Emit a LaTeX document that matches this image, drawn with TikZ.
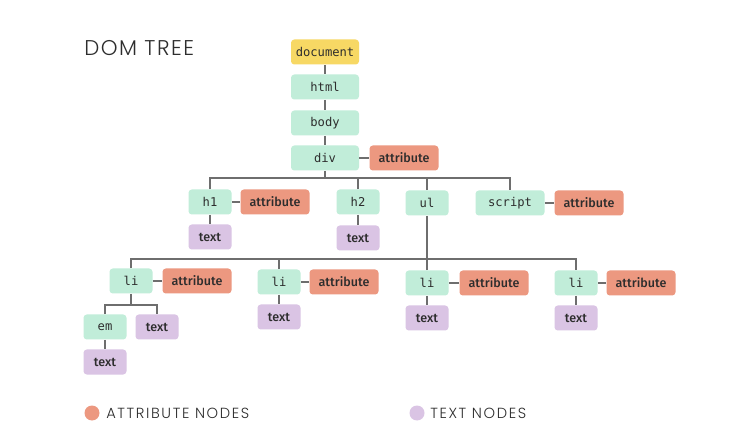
\documentclass[tikz,border=0pt]{standalone}
\usepackage{fontspec}
\newfontfamily\monof{DejaVu Sans Mono}
\newfontfamily\labf{Fira Sans Medium}
\newfontfamily\titlef{Poppins Light}[LetterSpace=7]
\newfontfamily\legf{Poppins Light}[LetterSpace=11]
\definecolor{docy}{RGB}{247,216,100}
\definecolor{elemg}{RGB}{193,237,217}
\definecolor{attrr}{RGB}{236,152,128}
\definecolor{textv}{RGB}{218,196,228}
\definecolor{linec}{RGB}{110,110,110}
\definecolor{inkc}{RGB}{45,45,45}
\tikzset{
  base/.style={rounded corners=2.5pt, inner sep=0pt, minimum height=18.75pt, text=inkc},
  elem/.style={base, fill=elemg, font=\monof\fontsize{9.1}{10}\selectfont, minimum width=32.25pt},
  wide/.style={minimum width=51pt},
  docn/.style={elem, wide, fill=docy},
  attr/.style={base, fill=attrr, font=\labf\fontsize{9.4}{10}\selectfont, minimum width=51.75pt},
  txt/.style={base, fill=textv, font=\labf\fontsize{9.4}{10}\selectfont, minimum width=32.25pt},
  conn/.style={draw=linec, line width=1.1pt},
}
\begin{document}
\begin{tikzpicture}[x=0.75pt,y=-0.75pt]
\useasboundingbox (0,0) rectangle (742,427);
\fill[white] (0,0) rectangle (742,427);
% title
\node[anchor=base west, inner sep=0pt, font=\titlef\fontsize{16}{18}\selectfont, text=inkc] (title) at (84,56) {DOM TREE};
% nodes
\node[docn] (document) at (325,52) {document};
\node[elem,wide] (html) at (325,87) {html};
\node[elem,wide] (body) at (325,123) {body};
\node[elem,wide] (div) at (325,158) {div};
\node[attr] (divattr) at (404,158) {attribute};
\node[elem] (h1) at (210,202) {h1};
\node[attr] (h1attr) at (275,202) {attribute};
\node[txt] (h1text) at (210,237) {text};
\node[elem] (h2) at (358,202) {h2};
\node[txt] (h2text) at (358,238) {text};
\node[elem] (ul) at (427,203) {ul};
\node[elem,minimum width=51.75pt] (script) at (510,203) {script};
\node[attr] (scriptattr) at (589,203) {attribute};
\node[elem] (li1) at (131,281) {li};
\node[attr] (li1attr) at (197,281) {attribute};
\node[elem] (em) at (105,327) {em};
\node[txt] (li1text) at (157,327) {text};
\node[txt] (emtext) at (105,362) {text};
\node[elem] (li2) at (279,282) {li};
\node[attr] (li2attr) at (344,282) {attribute};
\node[txt] (li2text) at (279,317) {text};
\node[elem] (li3) at (427,283) {li};
\node[attr] (li3attr) at (494,283) {attribute};
\node[txt] (li3text) at (427,318) {text};
\node[elem] (li4) at (576,283) {li};
\node[attr] (li4attr) at (641,283) {attribute};
\node[txt] (li4text) at (576,318) {text};
% bus coordinates
\coordinate (busA) at (0,178);
\coordinate (busB) at (0,259);
\coordinate (busC) at (0,305);
% connectors
\draw[conn] (document) -- (html);
\draw[conn] (html) -- (body);
\draw[conn] (body) -- (div);
\draw[conn] (div) -- (divattr);
\draw[conn] (div.south) -- (div.south |- busA);
\draw[conn] (h1.north) -- (h1.north |- busA) -| (script.north);
\draw[conn] (h2.north) -- (h2.north |- busA);
\draw[conn] (ul.north) -- (ul.north |- busA);
\draw[conn] (h1) -- (h1attr);
\draw[conn] (h1) -- (h1text);
\draw[conn] (h2) -- (h2text);
\draw[conn] (script) -- (scriptattr);
\draw[conn] (ul.south) -- (ul.south |- busB);
\draw[conn] (li1.north) -- (li1.north |- busB) -| (li4.north);
\draw[conn] (li2.north) -- (li2.north |- busB);
\draw[conn] (li3.north) -- (li3.north |- busB);
\draw[conn] (li1) -- (li1attr);
\draw[conn] (li1.south) -- (li1.south |- busC);
\draw[conn] (em.north) -- (em.north |- busC) -| (li1text.north);
\draw[conn] (em) -- (emtext);
\draw[conn] (li2) -- (li2attr);
\draw[conn] (li2) -- (li2text);
\draw[conn] (li3) -- (li3attr);
\draw[conn] (li3) -- (li3text);
\draw[conn] (li4) -- (li4attr);
\draw[conn] (li4) -- (li4text);
% legend
\node[circle, fill=attrr, minimum size=11.25pt, inner sep=0pt] (legA) at (92,413) {};
\node[anchor=base west, inner sep=0pt, font=\legf\fontsize{11}{12}\selectfont, text=inkc] (legAt) at (106,418) {ATTRIBUTE NODES};
\node[circle, fill=textv, minimum size=11.25pt, inner sep=0pt] (legT) at (417,413) {};
\node[anchor=base west, inner sep=0pt, font=\legf\fontsize{11}{12}\selectfont, text=inkc] (legTt) at (430,418) {TEXT NODES};
\end{tikzpicture}
\end{document}
